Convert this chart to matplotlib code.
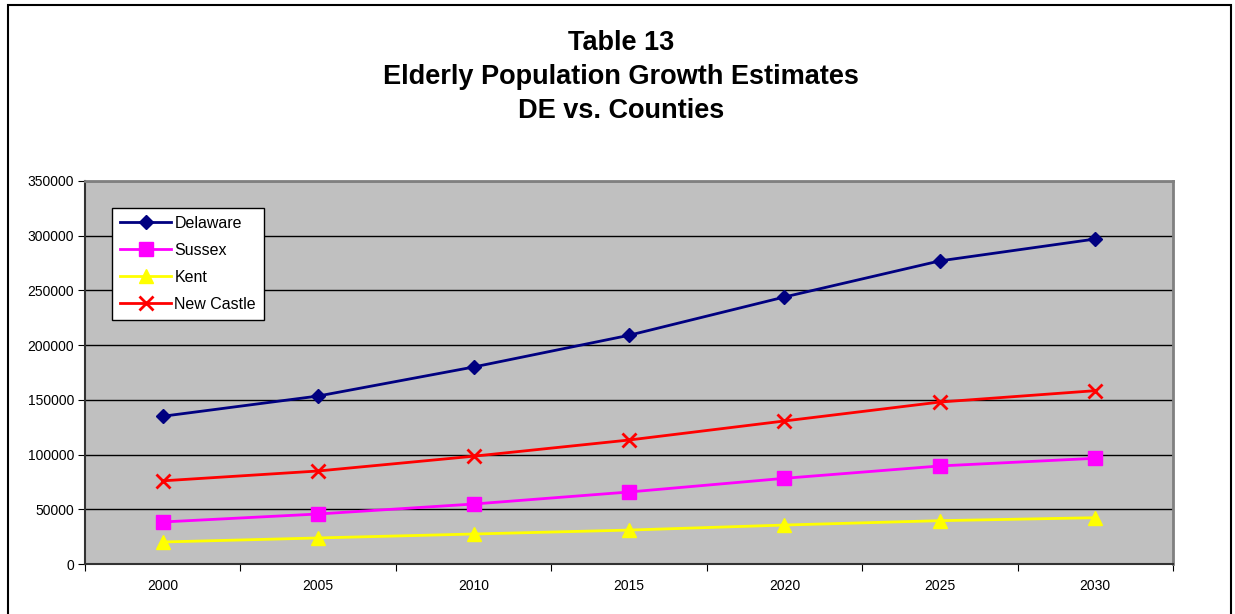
import matplotlib
matplotlib.use("Agg")
import matplotlib.pyplot as plt
from matplotlib.patches import Rectangle
import numpy as np

years = ["2000", "2005", "2010", "2015", "2020", "2025", "2030"]
delaware = [135000, 153500, 180000, 209000, 244000, 277000, 297000]
sussex = [38400, 45700, 54800, 65800, 78300, 89600, 96600]
kent = [20100, 23800, 27400, 31000, 35600, 39600, 42300]
new_castle = [76000, 85000, 98500, 113300, 130700, 148000, 158400]

plt.rcParams['font.family'] = ['Liberation Sans', 'DejaVu Sans']

W, H = 1235, 614
fig = plt.figure(figsize=(W / 100, H / 100), dpi=100)
fig.patch.set_facecolor("white")

# outer chart border
fig.patches.append(Rectangle((8 / W, -0.05), (1231 - 8) / W, 1.05 - 5 / H,
                             transform=fig.transFigure, fill=False,
                             edgecolor="black", linewidth=1.5))

ax = fig.add_axes([85 / W, (H - 564) / H, (1173 - 85) / W, (564 - 181) / H])
ax.set_facecolor("#C0C0C0")

x = np.arange(len(years))
ax.plot(x, delaware, color="#000080", lw=2, marker="D", ms=7.5, label="Delaware", zorder=3)
ax.plot(x, sussex, color="#FF00FF", lw=2, marker="s", ms=10, label="Sussex", zorder=3)
ax.plot(x, kent, color="#FFFF00", lw=2, marker="^", ms=10, label="Kent", zorder=3)
ax.plot(x, new_castle, color="#FF0000", lw=2, marker="x", ms=10, mew=2,
        label="New Castle", zorder=3)

ax.set_xlim(-0.5, len(years) - 0.5)
ax.set_ylim(0, 350000)
ax.set_yticks(np.arange(0, 350001, 50000))
ax.yaxis.grid(True, color="black", lw=1)
ax.set_axisbelow(True)

ax.set_xticks(np.arange(-0.5, len(years), 1.0))
ax.set_xticklabels([])
ax.set_xticks(x, minor=True)
ax.set_xticklabels(years, minor=True)
ax.tick_params(axis="x", which="major", length=5, direction="out", color="black")
ax.tick_params(axis="x", which="minor", length=0, pad=11, labelsize=10)
ax.tick_params(axis="y", length=5, direction="out", pad=3, labelsize=10)

for s in ["left", "bottom"]:
    ax.spines[s].set_color("#333333")
    ax.spines[s].set_linewidth(1.5)
for s in ["top", "right"]:
    ax.spines[s].set_color("#808080")
    ax.spines[s].set_linewidth(2)

leg = ax.legend(loc="upper left", bbox_to_anchor=(0.0248, 0.9295), fontsize=11.5,
                frameon=True, fancybox=False, framealpha=1, edgecolor="black",
                handlelength=3.2, labelspacing=0.75, borderpad=0.5,
                handletextpad=0.2, borderaxespad=0)
leg.get_frame().set_linewidth(1)

fig.text(621 / W, 1 - 77 / H, "Table 13\nElderly Population Growth Estimates\nDE vs. Counties",
         ha="center", va="center", fontsize=19.5, fontweight="bold", linespacing=1.38)

fig.savefig("out.png", dpi=100)
